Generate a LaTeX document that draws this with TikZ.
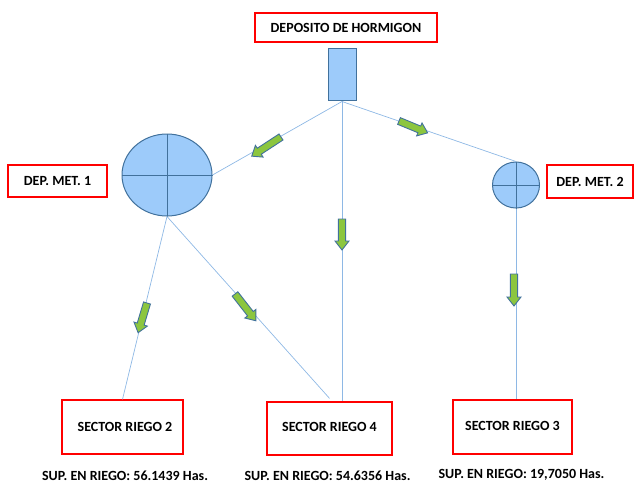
\documentclass[tikz,border=0pt]{standalone}
\usepackage{fontspec}
\setmainfont{Carlito}
\usetikzlibrary{calc,shapes.geometric}
\definecolor{boxred}{HTML}{FF0000}
\definecolor{tankfill}{HTML}{9DCBFA}
\definecolor{tankline}{HTML}{41719C}
\definecolor{pipe}{HTML}{8EB8E5}
\definecolor{flowgreen}{HTML}{8CC63F}
\tikzset{
  labelbox/.style={draw=boxred, line width=1.3pt, fill=white, inner sep=0pt,
    font=\fontsize{14}{16}\selectfont\bfseries},
  tankshape/.style={draw=tankline, line width=1pt, fill=tankfill, inner sep=0pt},
  pipeline/.style={draw=pipe, line width=0.7pt},
  crossline/.style={draw=tankline, line width=1pt},
  areatext/.style={font=\fontsize{14}{16}\selectfont\bfseries, inner sep=0pt},
  pics/garrow/.style={code={
    \draw[draw=tankline, line width=0.9pt, fill=flowgreen, line join=miter]
      (0pt,-3.6pt) -- (#1pt-9pt,-3.6pt) -- (#1pt-9pt,-7pt) -- (#1pt,0pt)
      -- (#1pt-9pt,7pt) -- (#1pt-9pt,3.6pt) -- (0pt,3.6pt) -- cycle;
  }}
}
\begin{document}
\begin{tikzpicture}[x=1pt,y=-1pt]
\useasboundingbox (0,0) rectangle (644,484);

% labels
\node[labelbox, minimum width=182pt, minimum height=29pt] (dep) at (346,27.5) {DEPOSITO DE HORMIGON};
\node[labelbox, minimum width=99pt, minimum height=32pt] (m1) at (57.5,181) {DEP. MET. 1};
\node[labelbox, minimum width=86pt, minimum height=33pt] (m2) at (590,181.5) {DEP. MET. 2};
\node[labelbox, minimum width=121pt, minimum height=54pt] (s2) at (122.5,427) {\hspace*{5pt}SECTOR RIEGO 2};
\node[labelbox, minimum width=125pt, minimum height=53pt] (s4) at (329.5,428.5) {\raisebox{4pt}{SECTOR RIEGO 4}};
\node[labelbox, minimum width=119pt, minimum height=54pt] (s3) at (512.5,427) {\raisebox{2pt}{SECTOR RIEGO 3}};

% tanks
\node[tankshape, minimum width=28pt, minimum height=52pt] (tank) at (342,75) {};
\node[tankshape, ellipse, minimum width=90pt, minimum height=82pt] (e1) at (167,175) {};
\node[tankshape, ellipse, minimum width=47pt, minimum height=46pt] (e2) at (516,185) {};
\foreach \e in {e1,e2}{
  \draw[crossline] (\e.north) -- (\e.south);
  \draw[crossline] (\e.west) -- (\e.east);
}

% pipes
\draw[pipeline] (tank.south) -- (e1.east);
\draw[pipeline] (tank.south) -- (e2.north);
\draw[pipeline] (tank.south) -- (tank.south |- s4.north);
\draw[pipeline] (e1.south) -- (s2.north);
\draw[pipeline] (e1.south) -- ($(s4.north)+(0,-3)$);
\draw[pipeline] (e2.south) -- (e2.south |- s3.north);

% flow arrows
\pic[rotate=213.2] at (281,137) {garrow=35};
\pic[rotate=-22.5] at (399,121) {garrow=31};
\pic[rotate=-90] at (342,219) {garrow=31};
\pic[rotate=-90] at (514,274) {garrow=32};
\pic[rotate=253.3] at (147,303) {garrow=31};
\pic[rotate=-52] at (235,294) {garrow=34};

% irrigated areas
\node[areatext] (a2) at (125,475.5) {SUP. EN RIEGO: 56.1439 Has.};
\node[areatext] (a4) at (327.5,475.5) {SUP. EN RIEGO: 54.6356 Has.};
\node[areatext] (a3) at (521.5,475) {SUP. EN RIEGO: 19,7050 Has.};
\end{tikzpicture}
\end{document}
